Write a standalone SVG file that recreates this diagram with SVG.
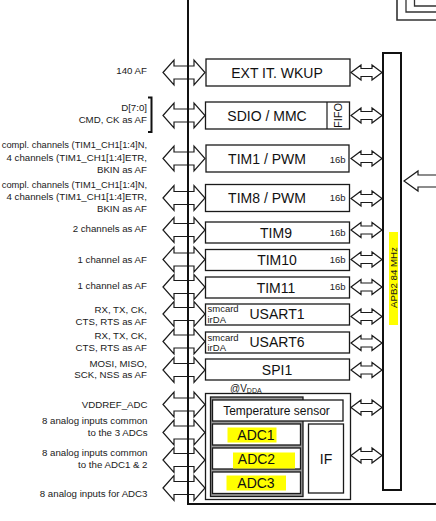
<svg xmlns="http://www.w3.org/2000/svg" width="436" height="521" viewBox="0 0 436 521">
<defs>
<style>
.bx{fill:#fff;stroke:#1a1a1a;stroke-width:1.3}
.ar{fill:#fff;stroke:#1a1a1a;stroke-width:1.2;stroke-linejoin:miter}
.ln{fill:none;stroke:#111;stroke-width:2}
.tl{font-family:"Liberation Sans",Arial,sans-serif;font-size:9.7px;fill:#1a1a1a;text-anchor:end}
.tc{font-size:9.3px}
.tb{font-family:"Liberation Sans",Arial,sans-serif;font-size:14px;fill:#111;text-anchor:middle}
.ts{font-family:"Liberation Sans",Arial,sans-serif;font-size:9.5px;fill:#1a1a1a}
.hl{fill:#ffff00}
</style>
<path id="la" d="M0,0 L11,-12.5 L11,-6.5 L31,-6.5 L31,-12.5 L42,0 L31,12.5 L31,6.5 L11,6.5 L11,12.5 Z"/>
<path id="ra" d="M0,0 L10,-7.5 L10,-4 L21,-4 L21,-7.5 L31,0 L21,7.5 L21,4 L10,4 L10,7.5 Z"/>
</defs>
<rect width="436" height="521" fill="#fff"/>

<g id="corner" fill="none" stroke="#333" stroke-width="1.3">
<polyline points="397,0 397,20 437,20" stroke-width="1.6"/>
<polyline points="406,0 406,12 437,12"/>
<polyline points="414.5,0 414.5,6 437,6"/>
</g>

<g id="connectors">
<g class="ar">
<use href="#la" x="163" y="72.5"/>
<use href="#la" x="163" y="115.5"/>
<use href="#la" x="163" y="158.5"/>
<use href="#la" x="163" y="198"/>
<use href="#la" x="163" y="230"/>
<use href="#la" x="163" y="259.5"/>
<use href="#la" x="163" y="287"/>
<use href="#la" x="163" y="314"/>
<use href="#la" x="163" y="341.5"/>
<use href="#la" x="163" y="370"/>
<use href="#la" x="163" y="404.5"/>
<use href="#la" x="163" y="432.5"/>
<use href="#la" x="163" y="460"/>
<use href="#la" x="163" y="488"/>
<use href="#ra" x="351" y="72.5"/>
<use href="#ra" x="351" y="115.5"/>
<use href="#ra" x="351" y="158.5"/>
<use href="#ra" x="351" y="198.5"/>
<use href="#ra" x="351" y="230"/>
<use href="#ra" x="351" y="259.5"/>
<use href="#ra" x="351" y="287"/>
<use href="#ra" x="351" y="316.5"/>
<use href="#ra" x="351" y="343"/>
<use href="#ra" x="351" y="370"/>
<use href="#ra" x="351" y="407.5"/>
<use href="#ra" x="351" y="455.5"/>
</g>
<path class="ar" d="M404,181 L418,171 L418,175 L440,175 L440,187 L418,187 L418,191 Z"/>
<polyline class="ln" points="188,0 188,504 437,504"/>
<path d="M148,97.5 H151.5 V132 H148" fill="none" stroke="#111" stroke-width="2"/>
</g>

<g id="labels">
<text class="tl" x="147" y="74">140 AF</text>
<text class="tl" x="147" y="111">D[7:0]</text>
<text class="tl" x="147" y="122.7">CMD, CK as AF</text>
<text class="tl tc" x="147" y="148.3">compl. channels (TIM1_CH1[1:4]N,</text>
<text class="tl" x="147" y="160.5">4 channels (TIM1_CH1[1:4]ETR,</text>
<text class="tl" x="147" y="172.7">BKIN as AF</text>
<text class="tl tc" x="147" y="188.3">compl. channels (TIM1_CH1[1:4]N,</text>
<text class="tl" x="147" y="200.3">4 channels (TIM1_CH1[1:4]ETR,</text>
<text class="tl" x="147" y="212.3">BKIN as AF</text>
<text class="tl" x="147" y="231.7">2 channels as AF</text>
<text class="tl" x="147" y="262.7">1 channel as AF</text>
<text class="tl" x="147" y="289.3">1 channel as AF</text>
<text class="tl" x="147" y="313.3">RX, TX, CK,</text>
<text class="tl" x="147" y="325">CTS, RTS as AF</text>
<text class="tl" x="147" y="339.3">RX, TX, CK,</text>
<text class="tl" x="147" y="351">CTS, RTS as AF</text>
<text class="tl" x="147" y="366.7">MOSI, MISO,</text>
<text class="tl" x="147" y="377.5">SCK, NSS as AF</text>
<text class="tl" x="147.5" y="408.3">VDDREF_ADC</text>
<text class="tl" x="147.5" y="424">8 analog inputs common</text>
<text class="tl" x="147.5" y="436">to the 3 ADCs</text>
<text class="tl" x="147.5" y="456">8 analog inputs common</text>
<text class="tl" x="147.5" y="468.3">to the ADC1 &amp; 2</text>
<text class="tl" x="147.5" y="496.7">8 analog inputs for ADC3</text>
</g>

<g id="apb2">
<rect x="383" y="53" width="18" height="437" fill="#fff" stroke="#111" stroke-width="2"/>
<rect class="hl" x="389" y="232" width="9" height="93"/>
<text transform="translate(397.3,277.5) rotate(-90)" font-family="Liberation Sans, Arial, sans-serif" font-size="9.7" fill="#1a1a1a" text-anchor="middle">APB2 84 MHz</text>
</g>

<g id="ext">
<rect class="bx" x="206" y="59" width="144" height="27"/>
<text class="tb" x="277" y="77.5">EXT IT. WKUP</text>
</g>
<g id="sdio">
<rect class="bx" x="205.5" y="102" width="144" height="27"/>
<line x1="327" y1="102" x2="327" y2="129" stroke="#1a1a1a" stroke-width="1.2"/>
<text class="tb" x="267" y="120.5">SDIO / MMC</text>
<text transform="translate(342.3,115.5) rotate(-90)" font-family="Liberation Sans, Arial, sans-serif" font-size="11" fill="#111" text-anchor="middle">FIFO</text>
</g>
<g id="tim1">
<rect class="bx" x="206" y="145" width="143" height="27"/>
<text class="tb" x="267" y="163.5">TIM1 / PWM</text>
<text class="ts" x="345.5" y="162.5" text-anchor="end">16b</text>
</g>
<g id="tim8">
<rect class="bx" x="205.5" y="184.5" width="144" height="27"/>
<text class="tb" x="267" y="203">TIM8 / PWM</text>
<text class="ts" x="345.5" y="200.5" text-anchor="end">16b</text>
</g>
<g id="tim9">
<rect class="bx" x="205.5" y="222" width="144" height="21"/>
<text class="tb" x="276" y="237.5">TIM9</text>
<text class="ts" x="345.5" y="235.5" text-anchor="end">16b</text>
</g>
<g id="tim10">
<rect class="bx" x="205.5" y="249.5" width="144" height="21"/>
<text class="tb" x="277" y="265">TIM10</text>
<text class="ts" x="345.5" y="262.7" text-anchor="end">16b</text>
</g>
<g id="tim11">
<rect class="bx" x="205.5" y="277" width="144" height="21"/>
<text class="tb" x="276" y="292.5">TIM11</text>
<text class="ts" x="345.5" y="289.7" text-anchor="end">16b</text>
</g>
<g id="usart1">
<rect class="bx" x="205.5" y="304" width="144" height="21"/>
<text class="tb" x="277" y="319">USART1</text>
<text class="ts" x="207.5" y="312.3">smcard</text>
<text class="ts" x="207.5" y="322.7">irDA</text>
</g>
<g id="usart6">
<rect class="bx" x="205.5" y="332" width="144" height="21"/>
<text class="tb" x="277" y="347">USART6</text>
<text class="ts" x="207.5" y="340.7">smcard</text>
<text class="ts" x="207.5" y="351">irDA</text>
</g>
<g id="spi1">
<rect class="bx" x="205.5" y="359" width="144" height="21"/>
<text class="tb" x="277" y="374.5">SPI1</text>
</g>
<g id="adc">
<text x="230" y="391.5" font-family="Liberation Sans, Arial, sans-serif" font-size="10" fill="#1a1a1a">@V<tspan font-size="7" dy="1">DDA</tspan></text>
<rect class="bx" x="205.5" y="393.5" width="145" height="106"/>
<rect x="210.5" y="397" width="92.5" height="99.5" fill="#9a9a9a" stroke="#1a1a1a" stroke-width="1.3"/>
<rect class="bx" x="212.5" y="400" width="130.5" height="21"/>
<text x="276.5" y="414.5" font-family="Liberation Sans, Arial, sans-serif" font-size="12" fill="#111" text-anchor="middle">Temperature sensor</text>
<rect class="bx" x="212.5" y="424" width="88" height="21"/>
<rect class="bx" x="212.5" y="448" width="88" height="21"/>
<rect class="bx" x="212.5" y="472" width="88" height="21.5"/>
<rect class="hl" x="227.5" y="427.5" width="49" height="15"/>
<rect class="hl" x="233" y="452.5" width="62" height="16"/>
<rect class="hl" x="226.5" y="475.5" width="59.5" height="15"/>
<text class="tb" x="256" y="440">ADC1</text>
<text class="tb" x="256.5" y="463.5">ADC2</text>
<text class="tb" x="256" y="487.5">ADC3</text>
<rect class="bx" x="308.5" y="424" width="35" height="69"/>
<text class="tb" x="326" y="463.5">IF</text>
</g>
</svg>
